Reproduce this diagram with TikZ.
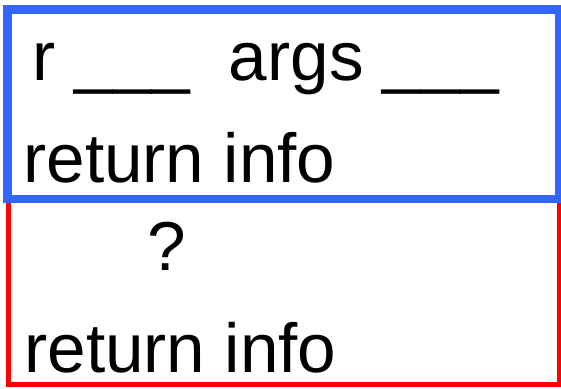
\documentclass[tikz,border=0pt]{standalone}
\usepackage{fontspec}
\setmainfont{Liberation Sans}
\definecolor{framblue}{HTML}{3366FF}
\definecolor{framred}{HTML}{FF0000}
\tikzset{
  lbl/.style={anchor=base west, inner sep=0pt, outer sep=0pt, font=\fontsize{69.3}{80}\selectfont, text=black},
  bluebox/.style={draw=framblue, line width=8.5pt},
  redbox/.style={draw=framred, line width=5pt}
}
\begin{document}
\begin{tikzpicture}[x=1pt,y=-1pt]
\useasboundingbox (0,0) rectangle (561,388);
\fill[white] (0,0) rectangle (561,388);
\draw[redbox] (8,199) rectangle (559.5,384.5);
\draw[bluebox] (7.5,9.5) rectangle (559.5,199);
\node[lbl] (line1) at (32.5,80) {r \_\_\_\ \ args \_\_\_};
\node[lbl] (ret1) at (23.5,182) {return info};
\node[lbl] (q) at (147,270) {?};
\node[lbl] (ret2) at (24.5,372) {return info};
\end{tikzpicture}
\end{document}
